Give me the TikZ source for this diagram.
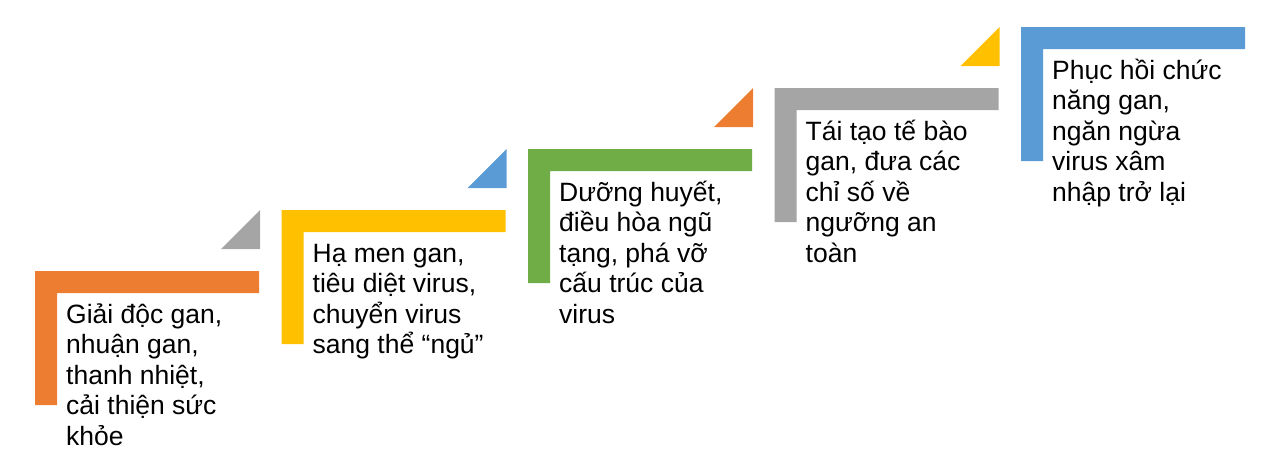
\documentclass[tikz,border=0pt]{standalone}
\usepackage{fontspec}
\setmainfont{Liberation Sans}
\usepackage{tikz}
\tikzstyle{diagram} = [x = 1pt, y = -1pt]
\definecolor{stepOrange}{RGB}{237,125,49}
\definecolor{stepGray}{RGB}{165,165,165}
\definecolor{stepYellow}{RGB}{255,192,0}
\definecolor{stepBlue}{RGB}{91,155,213}
\definecolor{stepGreen}{RGB}{112,173,71}
\tikzstyle{stepText} = [anchor = north west, align = left, inner sep = 0pt, text = black, font = \fontsize{26.5}{30.5}\selectfont]
\newcommand{\stepDx}{246.5}
\newcommand{\stepDy}{61}
\newcommand{\stepBracket}[3]{
  \pgfmathsetmacro{\stepX}{35 + \stepDx * #1}
  \pgfmathsetmacro{\stepY}{271 - \stepDy * #1}
  \fill [#2] (\stepX, \stepY) -- + (224, 0) -- + (224, 22) -- + (22, 22) -- + (22, 134) -- + (0, 134) -- cycle;
  % the rule fixes the first baseline 52 below the bar top
  \node [stepText] (stepText#1) at (\stepX + 31, \stepY + 22) {\rule{0pt}{30pt}#3};
}
\newcommand{\stepTriangle}[2]{
  \pgfmathsetmacro{\stepX}{35 + \stepDx * #1}
  \pgfmathsetmacro{\stepY}{271 - \stepDy * #1}
  \fill [#2] (\stepX + 225, \stepY - 22) -- + (-39, 0) -- + (0, -39) -- cycle;
}

\begin{document}
\begin{tikzpicture}[diagram]
  \useasboundingbox (0, 0) rectangle (1280, 471);

  \stepBracket{0}{stepOrange}{Giải độc gan,\\nhuận gan,\\thanh nhiệt,\\cải thiện sức\\khỏe}
  \stepTriangle{0}{stepGray}

  \stepBracket{1}{stepYellow}{Hạ men gan,\\tiêu diệt virus,\\chuyển virus\\sang thể “ngủ”}
  \stepTriangle{1}{stepBlue}

  \stepBracket{2}{stepGreen}{Dưỡng huyết,\\điều hòa ngũ\\tạng, phá vỡ\\cấu trúc của\\virus}
  \stepTriangle{2}{stepOrange}

  \stepBracket{3}{stepGray}{Tái tạo tế bào\\gan, đưa các\\chỉ số về\\ngưỡng an\\toàn}
  \stepTriangle{3}{stepYellow}

  \stepBracket{4}{stepBlue}{Phục hồi chức\\năng gan,\\ngăn ngừa\\virus xâm\\nhập trở lại}
\end{tikzpicture}
\end{document}
